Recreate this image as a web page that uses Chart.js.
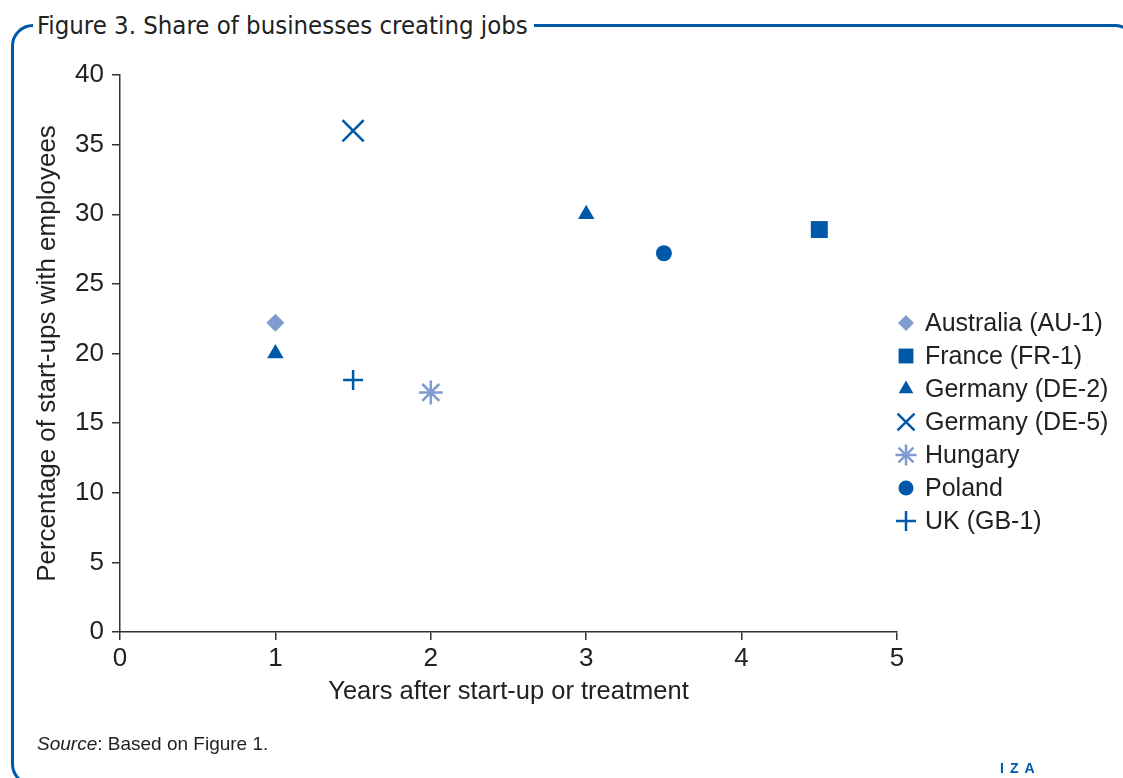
<!DOCTYPE html>
<html>
<head>
<meta charset="utf-8">
<script src="https://cdn.jsdelivr.net/npm/chart.js@4.4.0/dist/chart.umd.min.js"></script>
<style>
    html, body { margin: 0; padding: 0; background: #fff; overflow: hidden; }
    body { width: 1123px; height: 778px; position: relative; font-family: 'Liberation Sans', Arial, sans-serif; color: #222; }
    .frame { position: absolute; left: 11px; top: 24px; width: 1126px; height: 762px; border: 3px solid #0059a8; border-radius: 22px; box-sizing: border-box; }
    .title { position: absolute; left: 33px; top: 9px; padding: 0 6px 0 4px; background: #fff; font-family: 'Liberation Sans Narrow', 'DejaVu Sans Condensed', 'Liberation Sans', sans-serif; font-size: 25.5px; line-height: 32px; color: #222; }
    .source { position: absolute; left: 37px; top: 733px; font-size: 19px; color: #222; }
    .iza { position: absolute; left: 1000px; top: 760px; font-size: 14px; font-weight: bold; color: #0059a8; letter-spacing: 6px; }
    #chart { position: absolute; left: 0; top: 0; }
</style>
</head>
<body>
<div class="frame"></div>
<div class="title">Figure 3. Share of businesses creating jobs</div>
<canvas id="chart" width="1123" height="778"></canvas>
<div class="source"><i>Source</i>: Based on Figure 1.</div>
<div class="iza">IZA</div>
<script>
    // data
    const seriesNames = ["Australia (AU-1)", "France (FR-1)", "Germany (DE-2)", "Germany (DE-5)", "Hungary", "Poland", "UK (GB-1)"];
    const seriesYears = [[1], [4.5], [1, 3], [1.5], [2], [3.5], [1.5]];
    const seriesShares = [[22.2], [28.9], [20.0, 30.0], [36.0], [17.2], [27.2], [18.1]];
    const xTicks = [0, 1, 2, 3, 4, 5];
    const yTicks = [0, 5, 10, 15, 20, 25, 30, 35, 40];

    // marker styles
    const dark = "#0059a8", light = "#7f9bd0";
    const markerStyles = ["rectRot", "rect", "triangle", "crossRot", "star", "circle", "cross"];
    const markerColors = [light, dark, dark, dark, light, dark, dark];
    const markerRadius = [9, 12, 9.5, 15, 12, 8, 10];
    const legendRadius = [8, 10.5, 8.5, 12, 10.5, 7.5, 10];

    Chart.defaults.font.family = "'Liberation Sans', Arial, sans-serif";
    Chart.defaults.color = "#222";

    const datasets = seriesNames.map((name, i) => ({
        label: name,
        data: seriesYears[i].map((yr, j) => ({x: yr, y: seriesShares[i][j]})),
        pointStyle: markerStyles[i],
        pointRadius: markerRadius[i],
        pointHoverRadius: markerRadius[i],
        backgroundColor: markerColors[i],
        borderColor: markerColors[i],
        pointBorderWidth: (markerStyles[i].indexOf("cross") === 0 || markerStyles[i] === "star") ? 2.5 : 0,
        showLine: false,
    }));

    const sideLegend = {
        id: "sideLegend",
        afterDraw(chart) {
            const ctx = chart.ctx;
            ctx.save();
            chart.data.datasets.forEach((ds, i) => {
                const y = 323 + i * 33;
                ctx.fillStyle = markerColors[i];
                ctx.strokeStyle = markerColors[i];
                ctx.lineWidth = 2.5;
                Chart.helpers.drawPoint(ctx, {
                    pointStyle: markerStyles[i],
                    radius: legendRadius[i],
                    rotation: 0,
                    borderWidth: ds.pointBorderWidth
                }, 906, y);
                ctx.fillStyle = "#222";
                ctx.font = "25px 'Liberation Sans', Arial, sans-serif";
                ctx.textBaseline = "middle";
                ctx.textAlign = "left";
                ctx.fillText(ds.label, 925, y + 1);
            });
            ctx.restore();
        }
    };

    new Chart(document.getElementById("chart"), {
        type: "scatter",
        data: { datasets },
        options: {
            responsive: false,
            animation: false,
            layout: { padding: { top: 75, left: 0, right: 226, bottom: 46 } },
            plugins: { legend: { display: false }, tooltip: { enabled: false } },
            scales: {
                x: {
                    min: 0, max: 5,
                    afterBuildTicks: (s) => { s.ticks = xTicks.map((v) => ({value: v})); },
                    afterFit: (s) => { s.height = 100; },
                    grid: { drawOnChartArea: false, drawTicks: true, tickLength: 8, color: "#333", lineWidth: 1.5 },
                    border: { color: "#333", width: 1.5 },
                    ticks: { padding: 3, font: { size: 26 }, color: "#222" },
                    title: { display: true, text: "Years after start-up or treatment", font: { size: 25.5 }, color: "#222", padding: { top: 0, bottom: 25 } }
                },
                y: {
                    min: 0, max: 40,
                    afterBuildTicks: (s) => { s.ticks = yTicks.map((v) => ({value: v})); },
                    afterFit: (s) => { s.width = 120; },
                    grid: { drawOnChartArea: false, drawTicks: true, tickLength: 8, color: "#333", lineWidth: 1.5 },
                    border: { color: "#333", width: 1.5 },
                    ticks: { padding: 8, font: { size: 26 }, color: "#222" },
                    title: { display: true, text: "Percentage of start-ups with employees", font: { size: 26 }, color: "#222", padding: { top: 32, bottom: 0 } }
                }
            }
        },
        plugins: [sideLegend]
    });
</script>
</body>
</html>
